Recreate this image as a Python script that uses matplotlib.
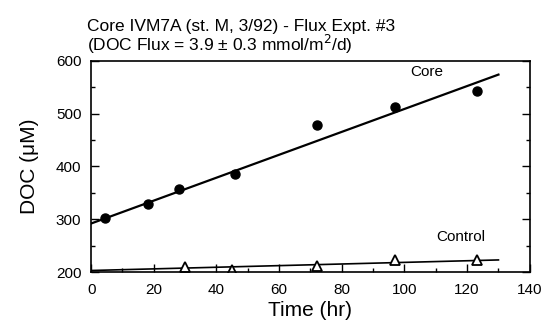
import matplotlib
matplotlib.use("Agg")
import matplotlib.pyplot as plt
from matplotlib.ticker import MultipleLocator

plt.rcParams["font.family"] = ["Liberation Sans", "DejaVu Sans"]

# Core incubation (filled circles)
core_time = [4.5, 18, 28, 46, 72, 97, 123]
core_doc = [302, 328, 358, 386, 478, 513, 542]
core_fit_time = [0, 130]
core_fit_doc = [292, 574]

# Control incubation (open triangles)
ctrl_time = [30, 45, 72, 97, 123]
ctrl_doc = [210, 203, 212, 222, 222]
ctrl_fit_time = [0, 130]
ctrl_fit_doc = [203, 223]

fig = plt.figure(figsize=(5.49, 3.29), dpi=100)
ax = fig.add_axes([0.166, 0.173, 0.799, 0.642])

ax.plot(core_fit_time, core_fit_doc, color="black", lw=1.6)
ax.plot(core_time, core_doc, "o", color="black", ms=6.5)
ax.plot(ctrl_fit_time, ctrl_fit_doc, color="black", lw=1.2)
ax.plot(ctrl_time, ctrl_doc, "^", mfc="white", mec="black", mew=1.3, ms=6.5)

ax.text(107, 579, "Core", ha="center", va="center", fontsize=11)
ax.text(118, 266, "Control", ha="center", va="center", fontsize=11)

ax.set_xlim(0, 140)
ax.set_ylim(200, 600)
ax.xaxis.set_major_locator(MultipleLocator(20))
ax.xaxis.set_minor_locator(MultipleLocator(10))
ax.yaxis.set_major_locator(MultipleLocator(100))
ax.yaxis.set_minor_locator(MultipleLocator(50))
ax.tick_params(which="both", direction="in", top=False, right=True, labelsize=11)
ax.tick_params(axis="x", pad=8)
ax.tick_params(axis="y", pad=7)
ax.tick_params(which="major", length=6, width=1)
ax.tick_params(which="minor", length=3, width=1)
for s in ax.spines.values():
    s.set_linewidth(1.2)

ax.set_xlabel("Time (hr)", fontsize=15, labelpad=3)
ax.set_ylabel("DOC (\u03bcM)", fontsize=15, labelpad=12)
ax.set_title("Core IVM7A (st. M, 3/92) - Flux Expt. #3\n"
             "(DOC Flux = 3.9 \u00b1 0.3 mmol/m$^2$/d)",
             loc="left", fontsize=12.5, x=-0.01, pad=7, linespacing=0.95)

fig.savefig("out.png", dpi=100)
